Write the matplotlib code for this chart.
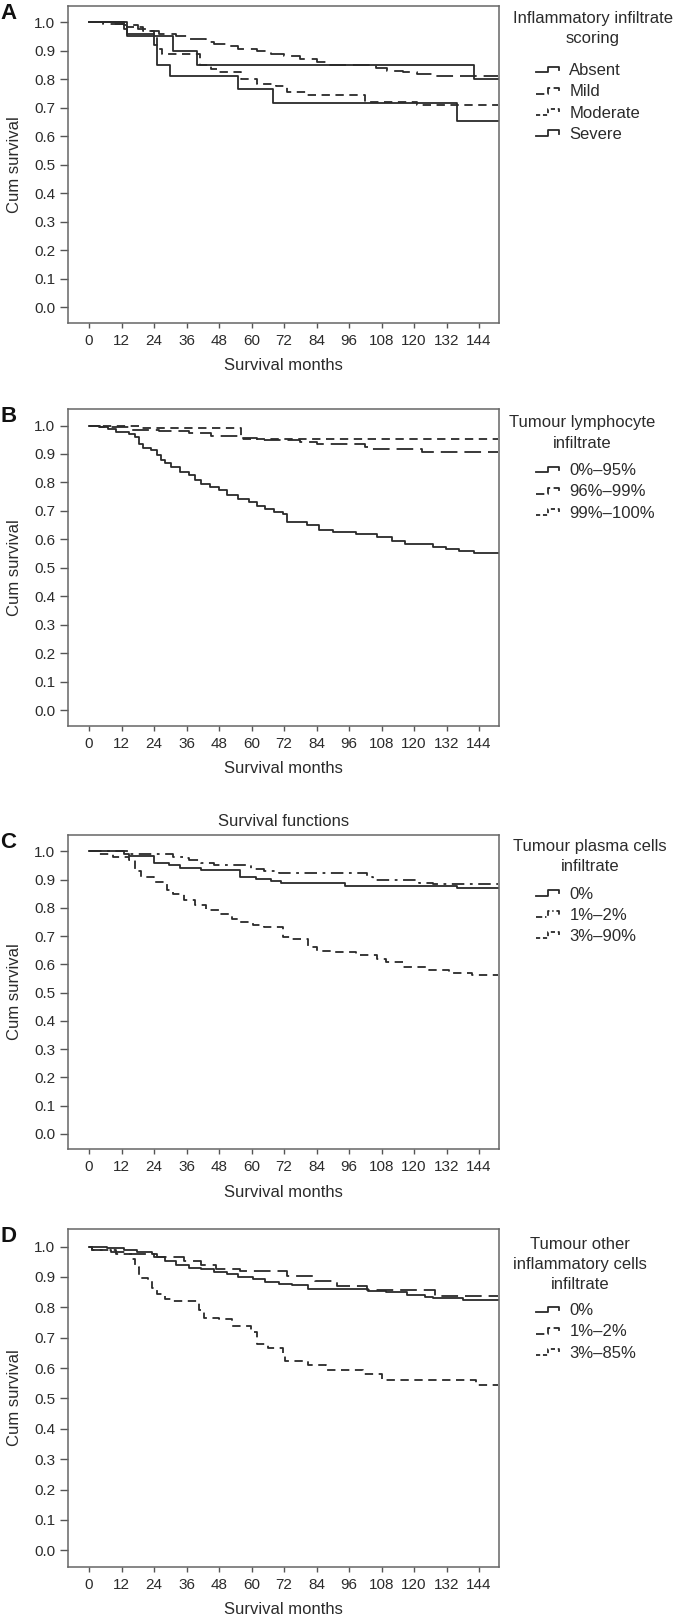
import matplotlib
matplotlib.use("Agg")
import matplotlib.pyplot as plt
from matplotlib.legend_handler import HandlerBase
from matplotlib.lines import Line2D

plt.rcParams["font.family"] = ["Liberation Sans", "DejaVu Sans"]
plt.rcParams["lines.scale_dashes"] = False

W, H = 673, 1616
END = 151
INK = "#2a2a2a"
TXT = "#2b2b2b"

# dash patterns
SOLID = None
LONG = (12, 5)
SHORT = (6, 4)
DASHDOT = (9, 4, 2, 4)

# ---- panel A: inflammatory infiltrate scoring
a_title = ["Inflammatory infiltrate", "scoring"]
a_labels = ["Absent", "Mild", "Moderate", "Severe"]
a_absent_t = [13, 14, 31, 40, 142]
a_absent_s = [0.975, 0.95, 0.90, 0.85, 0.80]
a_mild_t = [5, 13, 18, 22, 26, 32, 37, 43, 46, 52, 55, 62, 67, 72, 78, 84, 89, 106, 110, 116, 121, 127]
a_mild_s = [0.995, 0.99, 0.975, 0.97, 0.96, 0.95, 0.94, 0.93, 0.925, 0.915, 0.905, 0.90,
            0.89, 0.88, 0.87, 0.86, 0.85, 0.84, 0.83, 0.825, 0.82, 0.81]
a_moderate_t = [8, 14, 20, 24, 25, 27, 41, 45, 48, 56, 62, 69, 73, 80, 102, 121]
a_moderate_s = [0.995, 0.985, 0.97, 0.95, 0.905, 0.89, 0.85, 0.835, 0.825, 0.80, 0.785,
                0.775, 0.755, 0.745, 0.72, 0.71]
a_severe_t = [14, 24, 25, 30, 55, 68, 136]
a_severe_s = [0.96, 0.92, 0.85, 0.81, 0.765, 0.715, 0.655]

# ---- panel B: tumour lymphocyte infiltrate
b_title = ["Tumour lymphocyte", "infiltrate"]
b_labels = ["0%\u201395%", "96%\u201399%", "99%\u2013100%"]
b_low_t = [3.5, 7, 10, 14.6, 17, 18.5, 20, 23, 25, 26.5, 28, 30.4, 33.6, 37, 39, 41.5, 44.7,
           47.8, 51, 55, 59, 62, 65, 68.4, 71.6, 73.2, 80.3, 85, 90, 98.5, 106.5, 112, 116.8,
           127, 131.8, 136.6, 142]
b_low_s = [0.996, 0.988, 0.977, 0.971, 0.959, 0.936, 0.92, 0.915, 0.895, 0.88, 0.868, 0.854,
           0.836, 0.825, 0.81, 0.795, 0.784, 0.774, 0.757, 0.743, 0.731, 0.719, 0.708, 0.698,
           0.688, 0.661, 0.649, 0.634, 0.626, 0.62, 0.608, 0.596, 0.585, 0.573, 0.565, 0.558,
           0.552]
b_mid_t = [4, 15, 26, 37, 45, 56, 62, 78, 84, 102, 103, 123]
b_mid_s = [0.995, 0.985, 0.98, 0.975, 0.962, 0.955, 0.95, 0.943, 0.935, 0.926, 0.918, 0.906]
b_high_t = [19, 56]
b_high_s = [0.99, 0.952]

# ---- panel C: tumour plasma cells infiltrate
c_title = ["Tumour plasma cells", "infiltrate"]
c_labels = ["0%", "1%\u20132%", "3%\u201390%"]
c_zero_t = [13, 14.6, 24, 29.6, 33.6, 41.5, 55.8, 61.8, 67, 70.8, 94.6, 135.8]
c_zero_s = [0.992, 0.982, 0.959, 0.95, 0.942, 0.935, 0.911, 0.903, 0.894, 0.888, 0.879, 0.870]
c_low_t = [14.6, 31, 35, 37, 41.5, 46, 59.7, 64.5, 70, 102.5, 105, 122, 127]
c_low_s = [0.99, 0.98, 0.975, 0.968, 0.959, 0.953, 0.939, 0.93, 0.924, 0.909, 0.90, 0.888, 0.885]
c_high_t = [3.5, 9, 14.6, 17, 19.3, 24, 28.8, 31, 35, 39, 43, 48, 52.6, 55.8, 60.5, 64.5, 71.6,
            74.8, 81, 84, 90.6, 98.5, 106.5, 109.6, 116, 125.5, 133, 141.3]
c_high_s = [0.989, 0.98, 0.971, 0.93, 0.909, 0.891, 0.862, 0.85, 0.827, 0.809, 0.793, 0.779,
            0.762, 0.75, 0.741, 0.733, 0.697, 0.688, 0.661, 0.647, 0.642, 0.634, 0.62, 0.608,
            0.59, 0.581, 0.571, 0.563]

# ---- panel D: tumour other inflammatory cells infiltrate
d_title = ["Tumour other", "inflammatory cells", "infiltrate"]
d_labels = ["0%", "1%\u20132%", "3%\u201385%"]
d_zero_t = [6.6, 13, 17.7, 23.3, 25, 28, 32, 36.8, 41.5, 46, 51, 55, 60.5, 65, 70, 74.8, 81,
            103, 109.6, 117.5, 124, 127, 138]
d_zero_s = [0.995, 0.99, 0.981, 0.975, 0.965, 0.954, 0.941, 0.93, 0.925, 0.916, 0.91, 0.899,
            0.894, 0.885, 0.877, 0.872, 0.861, 0.853, 0.85, 0.841, 0.834, 0.83, 0.823]
d_low_t = [1, 8, 14.6, 24, 35, 41.5, 47, 55.8, 73, 83.5, 91.4, 102.5, 127.8]
d_low_s = [0.99, 0.981, 0.976, 0.965, 0.954, 0.938, 0.927, 0.921, 0.902, 0.888, 0.869, 0.858, 0.838]
d_high_t = [1, 10, 16, 16.8, 18.5, 21.7, 23.3, 25, 28, 31, 40.7, 42.3, 47.8, 52.6, 59.7, 62, 66,
            71.6, 72.4, 81, 87.4, 101, 108, 143]
d_high_s = [0.989, 0.976, 0.96, 0.932, 0.897, 0.888, 0.864, 0.845, 0.828, 0.82, 0.79, 0.766,
            0.763, 0.737, 0.719, 0.68, 0.667, 0.642, 0.624, 0.609, 0.593, 0.58, 0.56, 0.544]

x_ticks = list(range(0, 145, 12))
y_ticks = [i / 10 for i in range(11)]


class StepHandler(HandlerBase):
    """Draws the little KM-step glyph used in the SPSS legends."""

    def create_artists(self, legend, orig_handle, xdescent, ydescent, width, height, fontsize, trans):
        x0, y0 = -xdescent, -ydescent
        xs = [x0, x0 + 0.55 * width, x0 + 0.55 * width, x0 + width, x0 + width]
        ys = [y0 + 0.25 * height, y0 + 0.25 * height, y0 + 0.75 * height, y0 + 0.75 * height,
              y0 + 0.45 * height]
        line = Line2D(xs, ys, color=orig_handle.get_color(), lw=1.3, transform=trans)
        dashes = getattr(orig_handle, "_km_dashes", None)
        if dashes is not None:
            line.set_dashes(tuple(d * 0.5 for d in dashes))
        return [line]


def km(ax, t, s, dashes):
    xs = [0] + list(t) + [END]
    ys = [1.0] + list(s) + [s[-1]]
    line, = ax.step(xs, ys, where="post", color=INK, lw=1.3)
    if dashes is not None:
        line.set_dashes(dashes)
    line._km_dashes = dashes
    return line


panels = [
    # letter, box top/bottom (px), title lines, title x, title first y, entry first y, labels, series, header
    ("A", 5.7, 322.7, a_title, 593, 18, 68.3, a_labels,
     [(a_absent_t, a_absent_s, SOLID), (a_mild_t, a_mild_s, LONG),
      (a_moderate_t, a_moderate_s, SHORT), (a_severe_t, a_severe_s, SOLID)], None),
    ("B", 409, 725.7, b_title, 582, 423, 468.3, b_labels,
     [(b_low_t, b_low_s, SOLID), (b_mid_t, b_mid_s, LONG), (b_high_t, b_high_s, SHORT)], None),
    ("C", 835, 1149, c_title, 590, 846.5, 891.7, c_labels,
     [(c_zero_t, c_zero_s, SOLID), (c_low_t, c_low_s, DASHDOT), (c_high_t, c_high_s, SHORT)],
     "Survival functions"),
    ("D", 1229, 1566.7, d_title, 580, 1244.5, 1308.3, d_labels,
     [(d_zero_t, d_zero_s, SOLID), (d_low_t, d_low_s, LONG), (d_high_t, d_high_s, SHORT)], None),
]

fig = plt.figure(figsize=(W / 100, H / 100), dpi=100)
left, right = 67.7, 499.3

for letter, top, bottom, title, tx, ty, ey, labels, series, header in panels:
    ax = fig.add_axes([left / W, 1 - bottom / H, (right - left) / W, (bottom - top) / H])
    handles = [km(ax, t, s, d) for t, s, d in series]

    ax.set_xlim(-7.9, 151.5)
    ax.set_ylim(-0.054, 1.058)
    ax.set_xticks(x_ticks)
    ax.set_yticks(y_ticks)
    ax.set_yticklabels([f"{v:.1f}" for v in y_ticks])
    ax.tick_params(axis="x", length=3.6, width=1, color="#555555", pad=4.5, labelsize=11, labelcolor=TXT)
    ax.tick_params(axis="y", length=5.8, width=1, color="#555555", pad=3.2, labelsize=11, labelcolor=TXT)
    for sp in ax.spines.values():
        sp.set_color("#666666")
        sp.set_linewidth(1.1)
    ax.set_xlabel("Survival months", fontsize=12, color=TXT, labelpad=7.5)
    ax.set_ylabel("Cum survival", fontsize=12, color=TXT, labelpad=9)
    if header:
        ax.set_title(header, fontsize=12, color=TXT, pad=6.5)

    fig.text(0.5 / W, 1 - (top + 8) / H, letter, fontsize=16, fontweight="bold",
             color="#111111", ha="left", va="center")

    for i, line_txt in enumerate(title):
        fig.text(tx / W, 1 - (ty + 20 * i) / H, line_txt, fontsize=12, color=TXT,
                 ha="center", va="center")

    ax.legend(handles, labels, handler_map={Line2D: StepHandler()},
              loc="upper left", bbox_to_anchor=(536 / W, 1 - (ey - 5) / H),
              bbox_transform=fig.transFigure, frameon=False, borderpad=0, borderaxespad=0,
              fontsize=12, handlelength=1.35, handletextpad=0.65, labelspacing=0.37,
              labelcolor=TXT)

fig.savefig("out.png", dpi=100)
